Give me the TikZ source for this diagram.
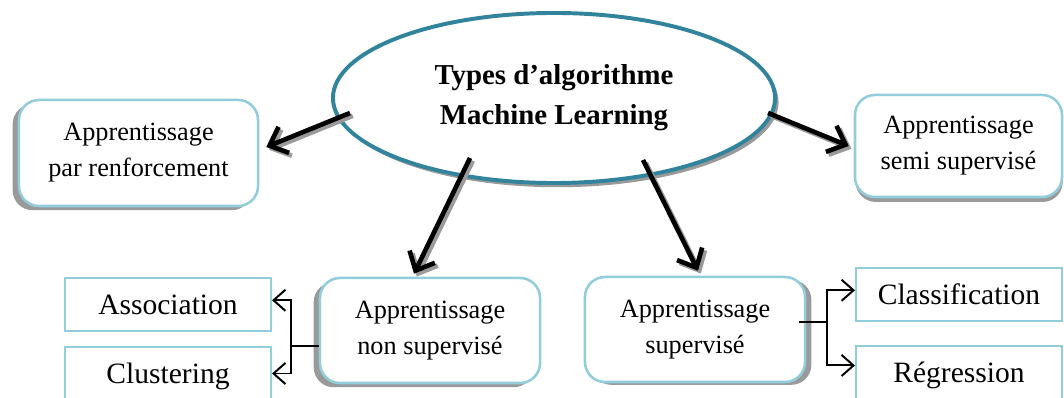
\documentclass[tikz,border=0pt]{standalone}
\usepackage{fontspec}
\setmainfont{Liberation Serif}
\usetikzlibrary{shapes.geometric,arrows.meta,calc,shadows}
\definecolor{ellblue}{HTML}{31849B}
\definecolor{boxblue}{HTML}{92CDDC}
\definecolor{shadowgray}{HTML}{9A9A9A}
\tikzset{
  mainell/.style={ellipse, draw=ellblue, line width=2.8pt, fill=white,
    minimum width=11.05cm, minimum height=4.25cm, inner sep=0pt,
    font=\fontsize{20.5}{28.5}\selectfont\bfseries, align=center,
    drop shadow={shadow xshift=2.5pt, shadow yshift=-3pt, fill=shadowgray, opacity=1}},
  typebox/.style={rectangle, rounded corners=0.5cm, draw=boxblue, line width=1.8pt,
    fill=white, align=center, font=\fontsize{18.7}{25.5}\selectfont, inner sep=0pt},
  shleft/.style={drop shadow={shadow xshift=-4.5pt, shadow yshift=-3pt, fill=shadowgray, opacity=1}},
  shright/.style={drop shadow={shadow xshift=4.5pt, shadow yshift=-2pt, fill=shadowgray, opacity=1}},
  shdown/.style={drop shadow={shadow xshift=0.5pt, shadow yshift=-3.5pt, fill=shadowgray, opacity=1}},
  leafbox/.style={rectangle, draw=boxblue, line width=1.4pt, fill=white,
    minimum width=5.15cm, minimum height=1.325cm, inner sep=0pt,
    text height=14.5pt, text depth=0pt,
    font=\fontsize{21}{25}\selectfont},
  bigarrow/.style={line width=3.3pt, -{Straight Barb[length=11pt,width=20pt]}},
  bigshadow/.style={bigarrow, draw=shadowgray, transform canvas={xshift=2pt,yshift=-2pt}},
  fork/.style={line width=1.4pt},
  forkarrow/.style={line width=1.4pt, -{Straight Barb[length=8.5pt,width=15pt]}}
}
\begin{document}
\begin{tikzpicture}[x=0.025cm, y=-0.025cm]
  \useasboundingbox (0,0) rectangle (1064,398);
  \clip (0,0) rectangle (1064,398);

  % central ellipse
  \node[mainell] (main) at (554,98) {Types d’algorithme\\Machine Learning};

  % the four learning types
  \node[typebox, shleft, minimum width=5.975cm, minimum height=2.65cm]
    (reinf) at (138.5,153) {Apprentissage\\par renforcement};
  \node[typebox, shdown, minimum width=5.175cm, minimum height=2.55cm]
    (semi) at (958.5,146) {Apprentissage\\semi supervisé};
  \node[typebox, shleft, minimum width=5.5cm, minimum height=2.625cm]
    (nonsup) at (430,330.5) {Apprentissage\\non supervisé};
  \node[typebox, shright, minimum width=5.5cm, minimum height=2.625cm]
    (sup) at (695,329.5) {Apprentissage\\supervisé};

  % leaf tasks
  \node[leafbox] (assoc) at (168,304.5) {Association};
  \node[leafbox] (clust) at (168,373.5) {Clustering};
  \node[leafbox] (classif) at (959,294.5) {Classification};
  \node[leafbox] (regr) at (959,372.5) {Régression};

  % end points of the main arrows
  \coordinate (s1) at ($(main.center)+(-204,15)$);
  \coordinate (e1) at ($(reinf.east)+(7,-6)$);
  \coordinate (s2) at ($(main.center)+(214,15)$);
  \coordinate (e2) at ($(semi.west)+(-5,0)$);
  \coordinate (s3) at ($(main.center)+(-84,60)$);
  \coordinate (e3) at ($(nonsup.north)+(-16,-3)$);
  \coordinate (s4) at ($(main.center)+(89,62)$);
  \coordinate (e4) at ($(sup.north)+(3,-5)$);

  \foreach \i in {1,...,4} {
    \draw[bigshadow] (s\i) -- (e\i);
  }
  \foreach \i in {1,...,4} {
    \draw[bigarrow] (s\i) -- (e\i);
  }

  % forks to the leaf tasks
  \coordinate (forkL) at (291,346);
  \draw[fork] (nonsup.west |- forkL) -- (forkL);
  \draw[forkarrow] (forkL) |- ([yshift=3pt]assoc.east);
  \draw[forkarrow] (forkL) |- (clust.east);

  \coordinate (forkR) at (827,322);
  \draw[fork] ([xshift=-5pt]sup.east |- forkR) -- (forkR);
  \draw[forkarrow] (forkR) |- ([yshift=3pt]classif.west);
  \draw[forkarrow] (forkR) |- ([yshift=5pt]regr.west);
\end{tikzpicture}
\end{document}
